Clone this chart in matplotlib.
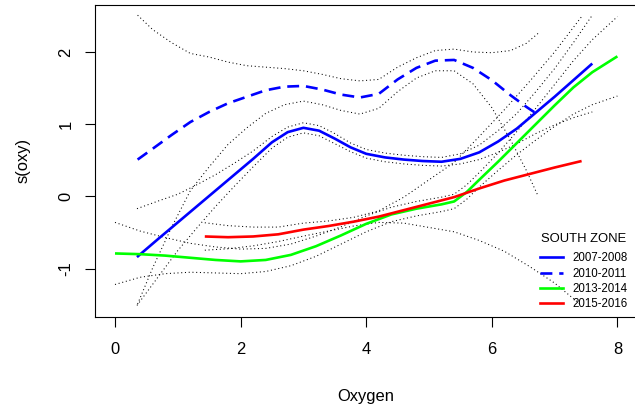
import matplotlib
matplotlib.use("Agg")
import matplotlib.pyplot as plt
from matplotlib.lines import Line2D

plt.rcParams['font.family'] = ['Liberation Sans', 'DejaVu Sans']

# ---- data ----
# 2007-2008 (blue solid) with its confidence band
x_0708 = [0.35, 0.7, 1.0, 1.3, 1.6, 1.9, 2.2, 2.5, 2.75, 3.0, 3.25, 3.5, 3.75, 4.0, 4.3, 4.6, 4.9, 5.2, 5.5, 5.8, 6.1, 6.4, 6.7, 7.0, 7.3, 7.6]
y_0708 = [-0.84, -0.58, -0.36, -0.14, 0.08, 0.30, 0.52, 0.75, 0.89, 0.95, 0.91, 0.80, 0.68, 0.59, 0.54, 0.51, 0.49, 0.48, 0.52, 0.61, 0.76, 0.94, 1.16, 1.38, 1.61, 1.84]
up_0708 = [-0.17, -0.06, 0.03, 0.16, 0.30, 0.46, 0.63, 0.83, 0.96, 1.02, 0.98, 0.87, 0.74, 0.65, 0.60, 0.57, 0.55, 0.54, 0.59, 0.71, 0.91, 1.15, 1.45, 1.77, 2.13, 2.51]
lo_0708 = [-1.51, -1.10, -0.75, -0.44, -0.14, 0.14, 0.41, 0.67, 0.82, 0.88, 0.84, 0.73, 0.62, 0.53, 0.48, 0.45, 0.43, 0.42, 0.45, 0.51, 0.61, 0.73, 0.87, 0.99, 1.09, 1.17]

# 2010-2011 (blue dashed)
x_1011 = [0.36, 0.6, 0.9, 1.2, 1.5, 1.8, 2.1, 2.4, 2.7, 3.0, 3.3, 3.6, 3.9, 4.2, 4.5, 4.8, 5.1, 5.4, 5.7, 6.0, 6.3, 6.55, 6.74]
y_1011 = [0.51, 0.66, 0.85, 1.03, 1.17, 1.29, 1.38, 1.47, 1.52, 1.53, 1.48, 1.41, 1.37, 1.42, 1.62, 1.78, 1.88, 1.89, 1.78, 1.61, 1.40, 1.24, 1.13]
up_1011 = [2.51, 2.31, 2.13, 1.98, 1.93, 1.86, 1.81, 1.79, 1.77, 1.74, 1.69, 1.63, 1.60, 1.62, 1.79, 1.92, 2.02, 2.04, 2.00, 1.99, 2.02, 2.12, 2.26]
lo_1011 = [-1.49, -0.99, -0.43, 0.08, 0.41, 0.72, 0.95, 1.15, 1.27, 1.32, 1.27, 1.19, 1.14, 1.22, 1.45, 1.64, 1.74, 1.74, 1.56, 1.23, 0.78, 0.36, 0.00]

# 2013-2014 (green)
x_1314 = [0.0, 0.4, 0.8, 1.2, 1.6, 2.0, 2.4, 2.8, 3.2, 3.6, 4.0, 4.4, 4.8, 5.2, 5.4, 5.6, 5.8, 6.1, 6.4, 6.7, 7.0, 7.3, 7.6, 8.0]
y_1314 = [-0.79, -0.80, -0.82, -0.85, -0.88, -0.90, -0.88, -0.81, -0.69, -0.54, -0.38, -0.25, -0.17, -0.11, -0.07, 0.06, 0.23, 0.48, 0.74, 1.00, 1.26, 1.51, 1.72, 1.94]
up_1314 = [-0.36, -0.48, -0.57, -0.65, -0.70, -0.73, -0.72, -0.66, -0.55, -0.42, -0.27, -0.15, -0.07, -0.01, 0.03, 0.16, 0.33, 0.60, 0.90, 1.22, 1.55, 1.88, 2.17, 2.49]
lo_1314 = [-1.22, -1.12, -1.07, -1.05, -1.06, -1.07, -1.04, -0.96, -0.83, -0.66, -0.49, -0.35, -0.27, -0.21, -0.17, -0.04, 0.13, 0.36, 0.58, 0.78, 0.97, 1.14, 1.27, 1.39]

# 2015-2016 (red)
x_1516 = [1.43, 1.8, 2.2, 2.6, 3.0, 3.4, 3.8, 4.2, 4.6, 5.0, 5.4, 5.8, 6.2, 6.6, 7.0, 7.43]
y_1516 = [-0.555, -0.565, -0.555, -0.525, -0.46, -0.41, -0.35, -0.28, -0.19, -0.10, -0.01, 0.11, 0.22, 0.31, 0.40, 0.49]
up_1516 = [-0.365, -0.405, -0.425, -0.425, -0.37, -0.34, -0.29, -0.20, -0.01, 0.23, 0.47, 0.83, 1.20, 1.59, 2.00, 2.49]
lo_1516 = [-0.745, -0.725, -0.685, -0.625, -0.55, -0.48, -0.41, -0.36, -0.37, -0.43, -0.49, -0.61, -0.76, -0.97, -1.20, -1.51]

legend_labels = ["2007-2008", "2010-2011", "2013-2014", "2015-2016"]
legend_title = "SOUTH ZONE"
x_ticks = [0, 2, 4, 6, 8]
y_ticks = [-1, 0, 1, 2]

# ---- figure ----
W, H = 635, 409
fig = plt.figure(figsize=(W / 100, H / 100), dpi=100)
L, R, T, B = 94.9, 637.5, 4.7, 316.7
ax = fig.add_axes([L / W, 1 - B / H, (R - L) / W, (B - T) / H])
ax.set_xlim(-0.32, 8.32)
ax.set_ylim(-1.666, 2.655)

dot = dict(color='black', lw=0.75, linestyle=(0, (1, 2.6)))
for xs, up, lo in [(x_0708, up_0708, lo_0708), (x_1011, up_1011, lo_1011),
                   (x_1314, up_1314, lo_1314), (x_1516, up_1516, lo_1516)]:
    ax.plot(xs, up, **dot)
    ax.plot(xs, lo, **dot)

lw = 1.9
ax.plot(x_0708, y_0708, color='#0000FF', lw=lw, solid_capstyle='butt')
ax.plot(x_1011, y_1011, color='#0000FF', lw=lw, linestyle=(0, (4.5, 2.6)))
ax.plot(x_1314, y_1314, color='#00FF00', lw=lw, solid_capstyle='butt')
ax.plot(x_1516, y_1516, color='#FF0000', lw=lw, solid_capstyle='butt')

ax.set_xticks(x_ticks)
ax.set_yticks(y_ticks)
ax.set_xticklabels([str(v) for v in x_ticks])
ax.set_yticklabels([str(v) for v in y_ticks])
ax.tick_params(direction='out', length=7.5, width=0.8, colors='black', labelsize=11.9)
ax.tick_params(axis='x', pad=11)
ax.tick_params(axis='y', pad=8)
plt.setp(ax.get_yticklabels(), rotation=90, va='center')
for s in ax.spines.values():
    s.set_linewidth(0.8)
    s.set_color('black')

ax.set_xlabel('Oxygen', fontsize=11.9, va='baseline')
ax.xaxis.set_label_coords(0.5, (B - 400.5) / (B - T))
ax.set_ylabel('s(oxy)', fontsize=11.9, va='center')
ax.yaxis.set_label_coords((23.5 - L) / (R - L), 0.5)

handles = [Line2D([], [], color='#0000FF', lw=lw),
           Line2D([], [], color='#0000FF', lw=lw, linestyle=(0, (4.5, 2.6))),
           Line2D([], [], color='#00FF00', lw=lw),
           Line2D([], [], color='#FF0000', lw=lw)]
leg = ax.legend(handles, legend_labels, loc='lower right', frameon=False,
                bbox_to_anchor=(628 / W, 1 - 310 / H), bbox_transform=fig.transFigure,
                fontsize=8.3, handlelength=2.0, handletextpad=0.85,
                labelspacing=0.28, borderpad=0, borderaxespad=0)
fig.text(584 / W, 1 - 242.3 / H, legend_title, ha='center', va='baseline', fontsize=9.4)

fig.savefig('out.png', dpi=100)
